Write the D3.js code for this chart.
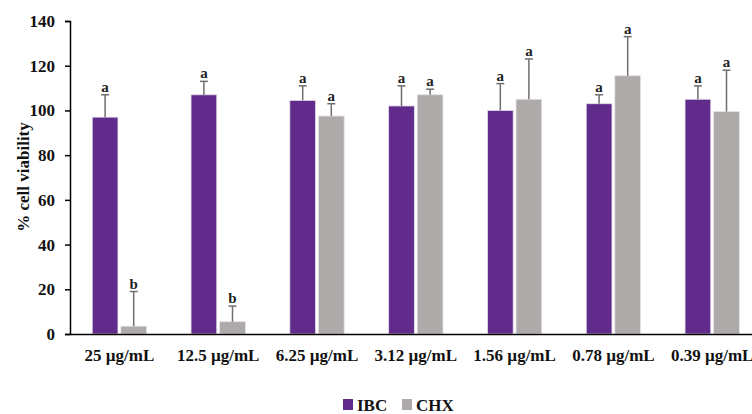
<!DOCTYPE html>
<html>
<head>
<meta charset="utf-8">
<script src="https://cdn.jsdelivr.net/npm/d3@7"></script>
<style>
  body { margin: 0; background: #fff; }
  svg text { font-family: "Liberation Serif", "Times New Roman", serif; font-weight: bold; }
</style>
</head>
<body>
<svg id="chart" width="752" height="414"></svg>
<script>
var categories = ['25 µg/mL', '12.5 µg/mL', '6.25 µg/mL', '3.12 µg/mL', '1.56 µg/mL', '0.78 µg/mL', '0.39 µg/mL'];
var seriesNames = ['IBC', 'CHX'];
var ibcValues = [97, 107, 104.5, 102, 100, 103, 105];
var ibcErrors = [10, 6, 6.5, 9, 12, 4, 6];
var ibcLetters = ['a', 'a', 'a', 'a', 'a', 'a', 'a'];
var chxValues = [3.5, 5.5, 97.5, 107, 105, 115.5, 99.5];
var chxErrors = [15.5, 7, 5.5, 2.5, 18, 17.5, 18.5];
var chxLetters = ['b', 'b', 'a', 'a', 'a', 'a', 'a'];
var yTicks = [0, 20, 40, 60, 80, 100, 120, 140];

var colors = { IBC: '#612b8b', CHX: '#aeaaaa' };

var svg = d3.select('#chart');
var margin = { left: 70, top: 21 };
var plotBottom = 334;

var y = d3.scaleLinear()
  .domain([0, 140])
  .range([plotBottom, margin.top]);

var x0 = d3.scaleBand()
  .domain(categories)
  .range([margin.left, margin.left + 7 * 98.8])
  .paddingInner(0.45)
  .paddingOuter(0.225);

var x1 = d3.scaleBand()
  .domain(seriesNames)
  .range([0, x0.bandwidth()])
  .paddingInner(0.1);

// one row per category, one item per series
var rows = categories.map(function(c, i) {
  return [
    { cat: c, key: 'IBC', value: ibcValues[i], err: ibcErrors[i], letter: ibcLetters[i] },
    { cat: c, key: 'CHX', value: chxValues[i], err: chxErrors[i], letter: chxLetters[i] }
  ];
});

// y axis
var yAxis = d3.axisLeft(y)
  .tickValues(yTicks)
  .tickSize(5)
  .tickPadding(10);

var gy = svg.append('g')
  .attr('transform', 'translate(' + margin.left + ',0)')
  .call(yAxis);
gy.select('.domain').attr('stroke', '#000').attr('stroke-width', 1.5);
gy.selectAll('.tick line').attr('stroke', '#000').attr('stroke-width', 1.5);
gy.selectAll('.tick text')
  .attr('fill', '#111')
  .style('font-size', '17px');

// bars
var groups = svg.append('g')
  .selectAll('g.group')
  .data(rows)
  .enter()
  .append('g')
  .attr('class', 'group')
  .attr('transform', function(d) { return 'translate(' + x0(d[0].cat) + ',0)'; });

groups.selectAll('rect')
  .data(function(d) { return d; })
  .enter()
  .append('rect')
  .attr('x', function(d) { return x1(d.key); })
  .attr('y', function(d) { return y(d.value); })
  .attr('width', x1.bandwidth())
  .attr('height', function(d) { return y(0) - y(d.value); })
  .attr('fill', function(d) { return colors[d.key]; })
  .attr('stroke', '#e6e0ea')
  .attr('stroke-width', 0.8);

// error bars, upper side only
var errs = groups.selectAll('g.err')
  .data(function(d) { return d; })
  .enter()
  .append('g')
  .attr('class', 'err');

errs.append('line')
  .attr('x1', function(d) { return x1(d.key) + x1.bandwidth() / 2; })
  .attr('x2', function(d) { return x1(d.key) + x1.bandwidth() / 2; })
  .attr('y1', function(d) { return y(d.value); })
  .attr('y2', function(d) { return y(d.value + d.err); })
  .attr('stroke', '#6e6e6e')
  .attr('stroke-width', 1.5);

errs.append('line')
  .attr('x1', function(d) { return x1(d.key) + x1.bandwidth() / 2 - 4; })
  .attr('x2', function(d) { return x1(d.key) + x1.bandwidth() / 2 + 4; })
  .attr('y1', function(d) { return y(d.value + d.err); })
  .attr('y2', function(d) { return y(d.value + d.err); })
  .attr('stroke', '#6e6e6e')
  .attr('stroke-width', 1.5);

errs.append('text')
  .attr('x', function(d) { return x1(d.key) + x1.bandwidth() / 2; })
  .attr('y', function(d) { return y(d.value + d.err) - 3; })
  .attr('text-anchor', 'middle')
  .attr('fill', '#222')
  .style('font-size', '15px')
  .text(function(d) { return d.letter; });

// x axis
var xAxis = d3.axisBottom(x0).tickSize(0).tickPadding(15);
var gx = svg.append('g')
  .attr('transform', 'translate(0,' + plotBottom + ')')
  .call(xAxis);
gx.select('.domain').attr('stroke', '#000').attr('stroke-width', 1.5);
gx.selectAll('.tick text')
  .attr('fill', '#111')
  .style('font-size', '17px');

// y title
svg.append('text')
  .attr('transform', 'translate(29,177) rotate(-90)')
  .attr('text-anchor', 'middle')
  .attr('fill', '#111')
  .style('font-size', '17px')
  .text('% cell viability');

// legend
var legend = svg.append('g')
  .attr('transform', 'translate(343,399)');

var li = legend.selectAll('g')
  .data(seriesNames)
  .enter()
  .append('g')
  .attr('transform', function(d, i) { return 'translate(' + (i * 59) + ',0)'; });

li.append('rect')
  .attr('width', 10)
  .attr('height', 11)
  .attr('fill', function(d) { return colors[d]; });

li.append('text')
  .attr('x', 14)
  .attr('y', 12)
  .attr('fill', '#111')
  .style('font-size', '17px')
  .text(function(d) { return d; });
</script>
</body>
</html>
